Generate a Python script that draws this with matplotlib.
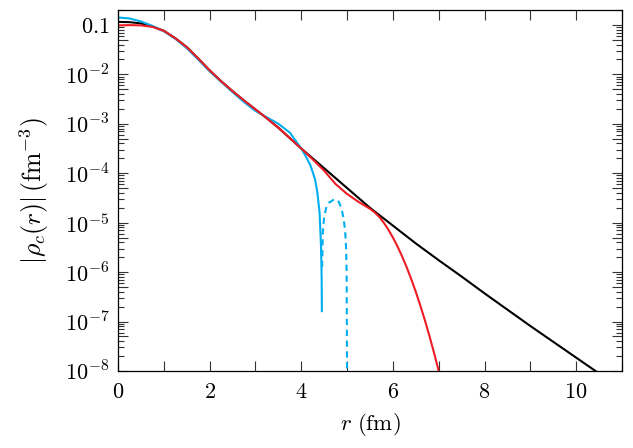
import numpy as np
import matplotlib
matplotlib.use('Agg')
import matplotlib.pyplot as plt
from matplotlib.ticker import FixedLocator, FuncFormatter, NullFormatter

plt.rcParams['mathtext.fontset'] = 'cm'
plt.rcParams['font.family'] = 'serif'
plt.rcParams['font.serif'] = ['cmr10', 'DejaVu Serif']
plt.rcParams['axes.formatter.use_mathtext'] = True

# values, log10 of |rho_c| (fm^-3)
r_black = [0.0, 0.25, 0.5, 0.75, 1.0, 1.25, 1.5, 1.75, 2.0, 2.25, 2.5, 2.75,
           3.0, 3.25, 3.5, 3.75, 4.0, 4.5, 5.0, 5.5, 6.0, 6.5, 7.0, 7.5,
           8.0, 8.5, 9.0, 9.5, 10.0, 10.5]
lg_black = [-0.94, -0.945, -0.97, -1.03, -1.12, -1.27, -1.45, -1.68, -1.92,
            -2.14, -2.34, -2.53, -2.71, -2.89, -3.08, -3.29, -3.50, -3.90,
            -4.30, -4.70, -5.06, -5.42, -5.76, -6.09, -6.43, -6.76, -7.09,
            -7.41, -7.73, -8.05]

r_red = [0.0, 0.25, 0.5, 0.75, 1.0, 1.25, 1.5, 1.75, 2.0, 2.25, 2.5, 2.75,
         3.0, 3.25, 3.5, 3.75, 4.0, 4.25, 4.5, 4.75, 5.0, 5.25, 5.5, 5.6,
         5.7, 5.8, 5.9, 6.0, 6.1, 6.2, 6.3, 6.4, 6.5, 6.6, 6.7, 6.8, 6.9,
         7.0]
lg_red = [-1.01, -1.005, -1.01, -1.04, -1.12, -1.27, -1.45, -1.68, -1.92,
          -2.14, -2.34, -2.53, -2.71, -2.89, -3.08, -3.29, -3.50, -3.72,
          -3.95, -4.22, -4.42, -4.58, -4.72, -4.79, -4.88, -5.00, -5.14,
          -5.30, -5.48, -5.68, -5.90, -6.14, -6.40, -6.68, -6.98, -7.30,
          -7.64, -8.00]

r_cyan = [0.0, 0.25, 0.5, 0.75, 1.0, 1.25, 1.5, 1.75, 2.0, 2.25, 2.5, 2.75,
          3.0, 3.25, 3.5, 3.75, 4.0, 4.1, 4.2, 4.3, 4.35, 4.4, 4.43, 4.445,
          4.45]
lg_cyan = [-0.85, -0.87, -0.93, -1.02, -1.13, -1.28, -1.47, -1.70, -1.94,
           -2.15, -2.36, -2.56, -2.74, -2.87, -3.00, -3.18, -3.50, -3.66,
           -3.84, -4.12, -4.38, -4.80, -5.45, -6.10, -6.79]

# negative lobe (plotted as |rho|, dashed)
r_neg = [4.455, 4.47, 4.5, 4.55, 4.6, 4.7, 4.76, 4.82, 4.88, 4.93, 4.96,
         4.98, 4.99, 5.0]
lg_neg = [-5.9, -5.2, -4.88, -4.68, -4.6, -4.54, -4.53, -4.58, -4.72, -4.95,
          -5.2, -5.55, -6.0, -8.2]

cyan = '#00AEEF'
red = '#ED1C24'

fig = plt.figure(figsize=(6.33, 4.48), dpi=100)
ax = fig.add_axes([0.1864, 0.1719, 0.7962, 0.8058])

ax.plot(r_black, 10**np.array(lg_black), color='black', lw=1.5)
ax.plot(r_cyan, 10**np.array(lg_cyan), color=cyan, lw=1.5)
ax.plot(r_neg, 10**np.array(lg_neg), color=cyan, lw=1.5, ls=(0, (3, 2.2)))
ax.plot(r_red, 10**np.array(lg_red), color=red, lw=1.5)

ax.set_yscale('log')
ax.set_xlim(0, 11)
ax.set_ylim(1e-8, 0.2)

# x ticks every fm, labels every 2
ax.xaxis.set_major_locator(FixedLocator(np.arange(0, 12, 1)))
ax.xaxis.set_major_formatter(FuncFormatter(
    lambda v, p: r'$%d$' % v if int(round(v)) % 2 == 0 else ''))

decades = [10.0**k for k in range(-8, 0)]
fives = [5 * 10.0**k for k in range(-9, -1)]
ax.yaxis.set_major_locator(FixedLocator(decades + fives))


def ylab(v, p):
    k = int(round(np.log10(v)))
    if abs(v - 10.0**k) / v > 1e-6:
        return ''
    if k == -1:
        return r'$0.1$'
    return r'$10^{%d}$' % k


ax.yaxis.set_major_formatter(FuncFormatter(ylab))
minor = [m * 10.0**k for k in range(-9, 0) for m in (2, 3, 4, 6, 7, 8, 9)]
ax.yaxis.set_minor_locator(FixedLocator(minor))
ax.yaxis.set_minor_formatter(NullFormatter())
ax.xaxis.set_minor_locator(FixedLocator([]))

ax.tick_params(which='both', direction='in', top=True, right=True,
               labelsize=16, width=0.8, color='#333333')
ax.tick_params(axis='x', which='major', length=7, pad=8)
ax.tick_params(axis='y', which='major', length=7.5, pad=6)
ax.tick_params(axis='y', which='minor', length=4)
for s in ax.spines.values():
    s.set_linewidth(0.9)

ax.set_xlabel(r'$r\ (\mathrm{fm})$', fontsize=16.5, labelpad=7)
ax.set_ylabel(r'$|\rho_c(r)|\,(\mathrm{fm}^{-3})$', fontsize=18.5, labelpad=10)

fig.savefig('out.png', dpi=100)
